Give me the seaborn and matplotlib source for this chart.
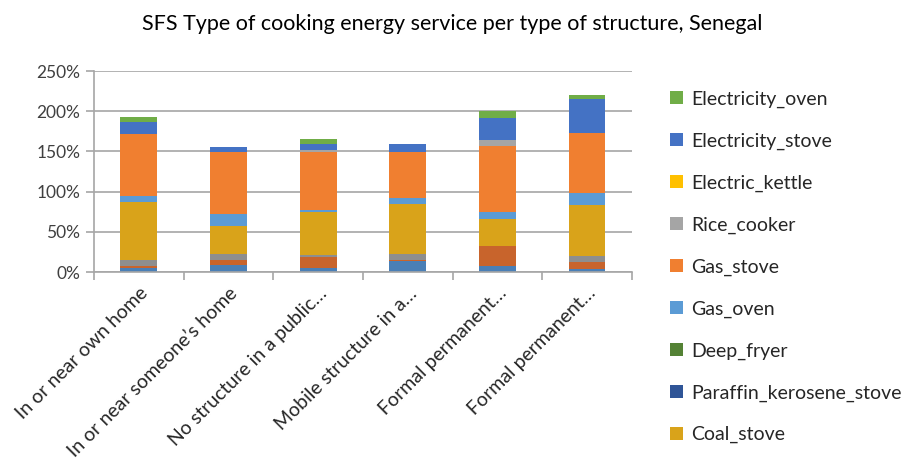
import numpy as np
import pandas as pd
import matplotlib
matplotlib.use("Agg")
import matplotlib.pyplot as plt
import seaborn as sns
from matplotlib.patches import Patch
from matplotlib.ticker import PercentFormatter, FixedLocator

sns.set_theme(style="white")
plt.rcParams['font.family'] = ['Lato', 'DejaVu Sans']

# categories (x axis)
structures = ['In or near own home', 'In or near someone\u2019s home',
              'No structure in a public\u2026', 'Mobile structure in a\u2026',
              'Formal permanent\u2026', 'Formal permanent\u2026']

# series, bottom to top (values in %); the first three are cut off the legend
wood_stove = [5.5, 8.3, 5.0, 13.3, 7.4, 3.3]
open_fire = [1.9, 7.1, 13.6, 2.1, 24.5, 8.7]
charcoal_stove = [7.1, 6.6, 2.1, 6.6, 0.0, 7.9]
coal_stove = [73.2, 35.9, 53.7, 63.2, 33.5, 62.9]
paraffin_kerosene_stove = [0.0, 0.0, 0.0, 0.0, 0.0, 0.0]
deep_fryer = [0.0, 0.0, 0.0, 0.0, 0.0, 0.0]
gas_oven = [7.5, 13.7, 3.0, 7.1, 8.7, 16.1]
gas_stove = [76.5, 77.3, 72.4, 57.5, 83.1, 74.4]
rice_cooker = [0.0, 0.0, 2.4, 0.0, 7.4, 0.0]
electric_kettle = [0.0, 0.0, 0.0, 0.0, 0.0, 0.0]
electricity_stove = [14.9, 7.1, 7.1, 9.9, 26.5, 42.6]
electricity_oven = [6.6, 0.0, 6.6, 0.0, 8.7, 4.6]

series_names = ['Wood_stove', 'Open_fire', 'Charcoal_stove', 'Coal_stove',
                'Paraffin_kerosene_stove', 'Deep_fryer', 'Gas_oven', 'Gas_stove',
                'Rice_cooker', 'Electric_kettle', 'Electricity_stove', 'Electricity_oven']
series_values = [wood_stove, open_fire, charcoal_stove, coal_stove,
                 paraffin_kerosene_stove, deep_fryer, gas_oven, gas_stove,
                 rice_cooker, electric_kettle, electricity_stove, electricity_oven]
series_colors = ['#4a7fb6', '#c8642c', '#8e8e8e', '#d9a31a',
                 '#2f5597', '#548235', '#5b9bd5', '#f07f30',
                 '#a5a5a5', '#ffc000', '#4472c4', '#70ad47']
legend_names = ['Electricity_oven', 'Electricity_stove', 'Electric_kettle',
                'Rice_cooker', 'Gas_stove', 'Gas_oven', 'Deep_fryer',
                'Paraffin_kerosene_stove', 'Coal_stove']

df = pd.DataFrame(dict(zip(series_names, series_values)))
df['structure'] = range(len(structures))
cum = df[series_names].cumsum(axis=1) / 100.0

fig = plt.figure(figsize=(9.04, 4.65), dpi=100)
ax = fig.add_axes([0.104, 0.415, 0.595, 0.432])

# draw cumulative layers from the top down so each one covers the rest
for name, color in zip(reversed(series_names), reversed(series_colors)):
    sns.barplot(x=df['structure'], y=cum[name], color=color, width=0.41,
                saturation=1, ax=ax, native_scale=True, linewidth=0)

grid_col = '#a6a6a6'
ax.set_xlim(-0.5, len(structures) - 0.5)
ax.set_ylim(0, 2.5)
ax.yaxis.set_major_locator(FixedLocator(np.arange(0, 2.51, 0.5)))
ax.yaxis.set_major_formatter(PercentFormatter(1.0, decimals=0))
ax.grid(axis='y', color=grid_col, linewidth=1.2)
ax.set_axisbelow(True)
ax.set_xlabel('')
ax.set_ylabel('')

ax.set_xticks(range(len(structures)))
ax.set_xticklabels(structures, rotation=45, ha='right', rotation_mode='anchor',
                   fontsize=14, color='#262626')
ax.set_xticks(np.arange(-0.5, len(structures)), minor=True)
ax.tick_params(axis='x', which='major', length=0, pad=9)
ax.tick_params(axis='x', which='minor', length=6, width=1.2, color=grid_col, bottom=True)
ax.tick_params(axis='y', length=6, width=1.2, color=grid_col, left=True,
               labelsize=12.5, labelcolor='#404040', pad=4)

for side in ['top', 'right']:
    ax.spines[side].set_visible(False)
for side in ['left', 'bottom']:
    ax.spines[side].set_color(grid_col)
    ax.spines[side].set_linewidth(1.2)

fig.suptitle('SFS Type of cooking energy service per type of structure, Senegal',
             x=0.5, y=0.97, fontsize=15.5, color='black')

color_map = dict(zip(series_names, series_colors))
handles = [Patch(facecolor=color_map[n], edgecolor='none') for n in legend_names]
fig.legend(handles, legend_names, loc='upper left', bbox_to_anchor=(0.733, 0.822),
           frameon=False, fontsize=14, handlelength=0.65, handleheight=0.65,
           handletextpad=0.4, labelspacing=1.27, labelcolor='#262626',
           borderaxespad=0)

fig.savefig('out.png', dpi=100)
